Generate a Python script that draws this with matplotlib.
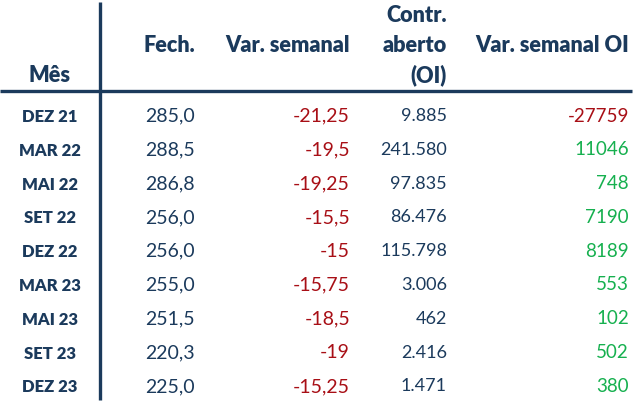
import matplotlib
matplotlib.use("Agg")
import matplotlib.pyplot as plt

# dados da tabela
meses = ["DEZ 21", "MAR 22", "MAI 22", "SET 22", "DEZ 22",
         "MAR 23", "MAI 23", "SET 23", "DEZ 23"]
fech = [285.0, 288.5, 286.8, 256.0, 256.0, 255.0, 251.5, 220.3, 225.0]
var_semanal = [-21.25, -19.5, -19.25, -15.5, -15, -15.75, -18.5, -19, -15.25]
contr_aberto = [9885, 241580, 97835, 86476, 115798, 3006, 462, 2416, 1471]
var_oi = [-27759, 11046, 748, 7190, 8189, 553, 102, 502, 380]

azul = "#1b3a5c"
vermelho = "#a80f16"
verde = "#16b04f"

plt.rcParams['font.family'] = ['Lato', 'DejaVu Sans']

def fmt_br(v):
    s = ("%g" % v).replace(".", ",")
    return s

def fmt_mil(v):
    return "{:,}".format(v).replace(",", ".")

fig = plt.figure(figsize=(6.42, 4.10), dpi=100)
ax = fig.add_axes([0, 0, 1, 1])
ax.set_xlim(0, 642)
ax.set_ylim(410, 0)
ax.axis("off")

# linhas
ax.plot([100, 100], [3, 401], color=azul, lw=2.4, solid_capstyle="butt")
ax.plot([0, 632], [92, 92], color=azul, lw=2.4, solid_capstyle="butt")

# cabeçalho
hs = 15.6
hw = "heavy"
ax.text(50, 75, "Mês", ha="center", va="center", fontsize=hs, fontweight=hw, color=azul)
ax.text(195, 45, "Fech.", ha="right", va="center", fontsize=hs, fontweight=hw, color=azul)
ax.text(350, 45, "Var. semanal", ha="right", va="center", fontsize=hs, fontweight=hw, color=azul)
ax.text(447, 15, "Contr.", ha="right", va="center", fontsize=hs, fontweight=hw, color=azul)
ax.text(447, 45, "aberto", ha="right", va="center", fontsize=hs, fontweight=hw, color=azul)
ax.text(447, 75, "(OI)", ha="right", va="center", fontsize=hs, fontweight=hw, color=azul)
ax.text(629, 45, "Var. semanal OI", ha="right", va="center", fontsize=hs, fontweight=hw, color=azul)

y0 = 116
dy = 33.8
for i in range(len(meses)):
    y = y0 + i * dy
    ax.text(50, y + 1, meses[i], ha="center", va="center", fontsize=12,
            fontweight=hw, color=azul)
    ax.text(195, y, ("%.1f" % fech[i]).replace(".", ","), ha="right", va="center",
            fontsize=14, color=azul)
    ax.text(350, y, fmt_br(var_semanal[i]), ha="right", va="center", fontsize=14,
            color=vermelho if var_semanal[i] < 0 else verde)
    ax.text(447, y, fmt_mil(contr_aberto[i]), ha="right", va="center", fontsize=13,
            color=azul)
    ax.text(629, y, str(var_oi[i]), ha="right", va="center", fontsize=13.5,
            color=vermelho if var_oi[i] < 0 else verde)

fig.savefig("out.png", dpi=100)
